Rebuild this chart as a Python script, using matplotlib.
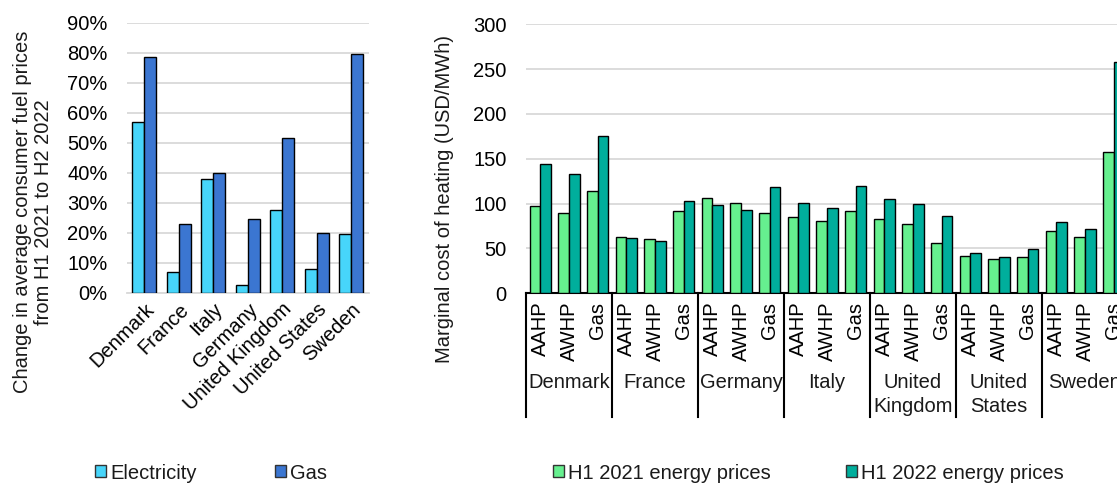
import matplotlib
matplotlib.use("Agg")
import matplotlib.pyplot as plt
import matplotlib.transforms as mtransforms
from matplotlib.patches import Patch
from matplotlib.ticker import PercentFormatter

FS = 14.5
plt.rcParams['font.family'] = ['Liberation Sans', 'DejaVu Sans']
plt.rcParams['font.size'] = FS
plt.rcParams['text.color'] = '#1a1a1a'

# left chart data
countries = ['Denmark', 'France', 'Italy', 'Germany', 'United Kingdom', 'United States', 'Sweden']
electricity = [57, 7, 38, 2.5, 27.5, 8, 19.5]
gas = [78.5, 23, 40, 24.5, 51.5, 20, 79.5]

# right chart data
groups = ['Denmark', 'France', 'Germany', 'Italy', 'United\nKingdom', 'United\nStates', 'Sweden']
techs = ['AAHP', 'AWHP', 'Gas']
h1_2021 = [97.5, 89, 114.5,
           63, 60, 92,
           106.5, 101, 90,
           85, 80.5, 92,
           82.5, 77.5, 56.5,
           41.5, 38, 41,
           70, 63, 157.5]
h1_2022 = [144.5, 132.5, 175.5,
           62, 58.5, 102.5,
           98, 93, 118,
           100.5, 95, 119.5,
           105, 99.5, 86,
           45, 41, 49.5,
           80, 72, 258]

c_elec = '#47D5FA'
c_gas = '#3B76D1'
c_21 = '#66F08F'
c_22 = '#00AE9C'
grid_c = '#D9D9D9'

W, H = 1117, 486
fig = plt.figure(figsize=(W / 100, H / 100), dpi=100)

def px_axes(x0, y_top, x1, y_bot):
    return fig.add_axes([x0 / W, 1 - y_bot / H, (x1 - x0) / W, (y_bot - y_top) / H])

# ---- left chart
ax1 = px_axes(127, 22.7, 368.6, 292.7)
x = list(range(len(countries)))
bw = 0.35
ax1.bar([i - bw / 2 for i in x], electricity, bw, color=c_elec, edgecolor='black', linewidth=1, zorder=3)
ax1.bar([i + bw / 2 for i in x], gas, bw, color=c_gas, edgecolor='black', linewidth=1, zorder=3)
ax1.set_xlim(-0.5, len(countries) - 0.5)
ax1.set_ylim(0, 90)
ax1.set_yticks(range(0, 91, 10))
ax1.yaxis.set_major_formatter(PercentFormatter(decimals=0))
ax1.grid(axis='y', color=grid_c, linewidth=1.3, zorder=0)
for s in ['top', 'right', 'left']:
    ax1.spines[s].set_visible(False)
ax1.spines['bottom'].set_color(grid_c)
ax1.spines['bottom'].set_linewidth(1.3)
ax1.set_xticks(x)
ax1.set_xticklabels(countries, rotation=45, ha='right', va='top', rotation_mode='anchor')
shift = mtransforms.ScaledTranslation(-5 / 100, 0, fig.dpi_scale_trans)
for lab in ax1.get_xticklabels():
    lab.set_transform(lab.get_transform() + shift)
ax1.tick_params(axis='both', length=0, labelsize=FS)
ax1.tick_params(axis='x', pad=5)
ax1.tick_params(axis='y', pad=14)
fig.text(33 / W, 1 - 212 / H, 'Change in average consumer fuel prices\nfrom H1 2021 to H2 2022',
         rotation=90, ha='center', va='center', fontsize=FS, linespacing=1.15)

# ---- right chart
ax2 = px_axes(526, 24.3, 1128, 293.3)
n = len(h1_2021)
xr = list(range(n))
bw2 = 0.37
ax2.bar([i - bw2 / 2 for i in xr], h1_2021, bw2, color=c_21, edgecolor='black', linewidth=1, zorder=3)
ax2.bar([i + bw2 / 2 for i in xr], h1_2022, bw2, color=c_22, edgecolor='black', linewidth=1, zorder=3)
ax2.set_xlim(-0.5, n - 0.5)
ax2.set_ylim(0, 300)
ax2.set_yticks(range(0, 301, 50))
ax2.grid(axis='y', color=grid_c, linewidth=1.3, zorder=0)
for s in ['top', 'right', 'left']:
    ax2.spines[s].set_visible(False)
ax2.spines['bottom'].set_color('black')
ax2.spines['bottom'].set_linewidth(1.5)
ax2.set_xticks(xr)
ax2.set_xticklabels(techs * len(groups), rotation=90, ha='center', va='top')
ax2.tick_params(axis='both', length=0, labelsize=FS)
ax2.tick_params(axis='x', pad=6)
ax2.tick_params(axis='y', pad=14)
fig.text(444 / W, 1 - 199 / H, 'Marginal cost of heating (USD/MWh)',
         rotation=90, ha='center', va='center', fontsize=FS)

trans = mtransforms.blended_transform_factory(ax2.transData, ax2.transAxes)
k = len(techs)
for g, name in enumerate(groups):
    ax2.text(g * k + (k - 1) / 2, -0.298, name, transform=trans, ha='center', va='top',
             fontsize=FS, linespacing=1.3, clip_on=False)
for g in range(len(groups) + 1):
    xb = g * k - 0.5
    ax2.plot([xb, xb], [0, -0.459], transform=trans, color='black', linewidth=1.5,
             clip_on=False, zorder=4)

# ---- legends
leg_kw = dict(frameon=False, handlelength=0.55, handleheight=0.55, handletextpad=0.2,
              borderpad=0, borderaxespad=0, fontsize=FS, ncol=2, loc='center left')
fig.legend(handles=[Patch(facecolor=c_elec, edgecolor='#333333', label='Electricity'),
                    Patch(facecolor=c_gas, edgecolor='#333333', label='Gas')],
           bbox_to_anchor=(95 / W, 1 - 473 / H), columnspacing=3.9, **leg_kw)
fig.legend(handles=[Patch(facecolor=c_21, edgecolor='#333333', label='H1 2021 energy prices'),
                    Patch(facecolor=c_22, edgecolor='#333333', label='H1 2022 energy prices')],
           bbox_to_anchor=(553 / W, 1 - 473 / H), columnspacing=3.75, **leg_kw)

fig.savefig('out.png', dpi=100)
